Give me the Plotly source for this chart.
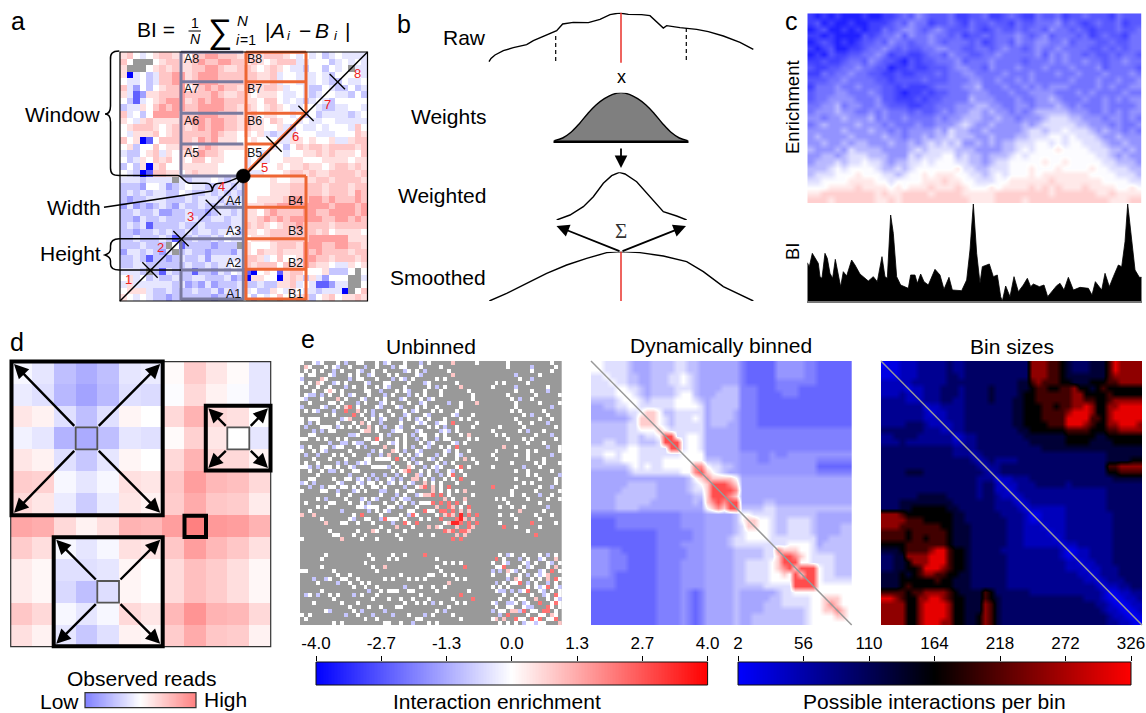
import plotly.graph_objects as go

FONT = "Liberation Sans"
LABEL = 21
BWR = [[0, "#0000ff"], [0.5, "#ffffff"], [1, "#ff0000"]]
BKR = [[0, "#0000ff"], [0.5, "#000000"], [1, "#ff0000"]]
ORANGE = "#ee6633"
SLATE = "#7a7a9e"
RED = "#e8302a"

# Panel a: enrichment cells above the anti-diagonal, top row first ('g' = no data)
a_rows = [
"67545677665778877767667776545453454444",
"75ggg567766787788776765677744555345453",
"6ggg5676766778876677656765443553545g",
"60453477886788877777766745544454355g5",
"5445347788678887777776674554445433",
"74253567785678787767667764554335454",
"6412667778777787667656665445434545",
"53145678886787887776657754543455545",
"34465787887788887767656765445534g",
"74535888877788877766756655453545",
"65467666677887887767665765544535",
"56777656776787887767665564343545",
"54666756777777876656564344554465",
"75601577777687866655655544355455",
"56355756677578766665555444435",
"43356746566687765555544455",
"53465767565775665554545454",
"35360675566666655554545",
"54301776656766655554",
"44434444g4344454345",
"33325542345443344344",
"34343443354334343",
"32334443334344434",
"24232343243343334",
"33433422334332g3",
"33243343334433",
"34341333343344",
"33233434334",
"33433343133",
"3334333g",
"24434324",
"3343133",
"334433",
"4443g3",
"56453",
"4643",
"564",
"65",
]
a_levels = {"0": -4.0, "1": -2.5, "2": -1.5, "3": -0.9, "4": -0.4, "5": 0.0, "6": 0.5,
            "7": 0.9, "8": 1.5, "9": 2.2, "g": None}

# Panel b: profiles (position relative to the window centre, height above each baseline)
raw_x = [-396, -390, -378, -353, -323, -283, -263, -233, -193, -175, -143, -98, -63, -33, -5, 22, 62, 87, 107, 127, 137, 177, 227, 262, 307, 357, 397]
raw_y = [3, 13, 23, 36, 45, 54, 66, 78, 96, 116, 121, 120, 130, 144, 149, 145, 144, 141, 123, 104, 111, 105, 100, 93, 80, 61, 40]
weight_x = [-200, -175, -150, -125, -100, -75, -50, -25, 0, 25, 50, 75, 100, 125, 150, 175, 200]
weight_y = [3, 11, 28, 54, 84, 110, 129, 142, 147, 142, 129, 110, 84, 54, 28, 11, 3]
weighted_x = [-193, -153, -113, -83, -53, -28, -5, 12, 47, 77, 107, 127, 167, 197]
weighted_y = [0, 15, 40, 70, 110, 133, 143, 138, 115, 80, 45, 25, 12, 0]
smooth_x = [-395, -343, -283, -223, -163, -103, -43, 0, 57, 127, 197, 247, 307, 362, 397]
smooth_y = [0, 23, 53, 83, 108, 128, 145, 148, 145, 135, 118, 88, 43, 18, 0]

# Panel c: boundary insulation profile and enrichment triangle map
bi_x = [0, 6, 15, 23, 33, 38, 44, 53, 60, 68, 76, 84, 93, 100, 108, 118, 133, 143, 158, 168, 183, 198, 210, 224, 233, 240, 250, 258, 268, 280, 303, 310, 323, 330, 340, 350, 363, 383, 398, 410, 425, 435, 463, 478, 488, 498, 508, 518, 525, 546, 558, 570, 580, 585, 595, 608, 620, 633, 648, 660, 670, 678, 696, 710, 721, 748, 758, 770, 783, 798, 818, 843, 854, 864, 883, 893, 906, 918, 933, 943, 953, 961, 973, 983, 996, 1003]
bi_y = [115, 103, 143, 128, 113, 73, 68, 143, 128, 83, 68, 125, 73, 43, 88, 75, 123, 108, 81, 73, 60, 73, 58, 133, 73, 68, 258, 203, 73, 48, 38, 78, 78, 53, 81, 58, 48, 95, 78, 35, 71, 33, 31, 63, 153, 291, 143, 53, 103, 111, 73, 78, 13, 0, 45, 13, 73, 28, 48, 68, 43, 51, 43, 48, 13, 46, 53, 33, 71, 33, 41, 38, 18, 58, 33, 83, 43, 73, 108, 103, 178, 291, 183, 93, 71, 71]
c_rows = [
"10101000100112324322231122311232113223122322213222",
"12010010011123243312232132232213223334232123223122",
"01200101011323443234322232123223233243323212223223",
"11010000212334243343323122323334323423332312322133",
"01210101223243323343233323123324334433423332232233",
"10120011233432322334433223323433234334333322323233",
"01021122334312211233243322334333334243433232232332",
"11211233243221021223334233343333233343433433233433",
"21122334332201121122234433243334333433343334233332",
"11323343322112112223233443333433343334334333433343",
"22233433332212222322233344334334343333343334334334",
"13334334333221211123333445333433434344433334343344",
"23334433343221011212233344433343344443334343333433",
"23344443334221112122333354443334334454333433434344",
"33445344334322211223334445544334434445434333433334",
"34445443343433323223434455454434345555544433434344",
"44344544453433433334344555445443444566655444344343",
"34544445444343334334445654454444545666665544434334",
"44444544454434344445465544544444566566766654544343",
"45444454444544344545565554454445566677676665445444",
"44544545544454454565656445454556667767677666544544",
"54445465555444456566665554444556767778777766655454",
"44554566655544465666775655455567677777777776654544",
"45556566766545566767776655456677777877877777665554",
"55567677776556567777778665566677787778777787766655",
"56667778777665677878887766567677787888888877776665",
"66777788887767777888988776667788888898888888777766",
"77788889888878788898889877787888898989888988887787",
"88999999998988999989999888889999999989999998898888",
"99989999998898999999999988889999899999999999988899",
]
c_levels = {"0": -3.5, "1": -3.0, "2": -2.6, "3": -2.2, "4": -1.7, "5": -1.1, "6": -0.5, "7": -0.05, "8": 0.35, "9": 0.75}

# Panel d: observed reads
d_matrix = [
[-.03, -.10, -.25, -.32, -.25, -.10, -.08, .02, .20, .10, .02, -.10],
[-.08, -.12, -.28, -.36, -.27, -.12, -.14, -.01, .15, .05, -.02, -.10],
[.10, .05, -.12, -.25, -.12, .04, .00, .15, .30, .15, .12, .00],
[-.05, -.10, -.30, -.33, -.25, -.10, -.12, .02, .18, .10, .00, -.10],
[.10, .05, -.12, -.22, -.10, .04, .00, .15, .30, .15, .15, .05],
[.20, .18, -.03, -.10, -.03, .12, .10, .22, .38, .28, .25, .15],
[.15, .10, -.08, -.20, -.08, .10, .05, .20, .33, .22, .20, .08],
[.35, .32, .15, .05, .13, .30, .28, .38, .50, .40, .38, .30],
[.20, .13, -.03, -.10, -.03, .12, .10, .22, .38, .28, .22, .12],
[.08, .03, -.12, -.12, -.10, .04, .00, .14, .25, .20, .13, .03],
[.08, .03, -.15, -.25, -.13, .04, .00, .14, .25, .20, .13, .03],
[.22, .15, -.03, -.10, -.03, .15, .10, .28, .42, .30, .28, .15],
[.12, .05, -.10, -.22, -.12, .05, .03, .20, .33, .22, .20, .05],
]

# Panel e: unbinned enrichment, upper triangle, each row starts on the diagonal ('.' = no data)
e1_rows = [
"w..wbw...w.b..ww...w.bw...w...b.w.....p.....w.......w..........w......w..w....",
"pw...w.wb..w...b..w...b.ww...w....w.........w......w.....b.....w.........w..",
".w.w..b.w...wb..w..w....bw.w.b.....w.......w.w..........w....w.......w....w",
"w...wb...w.w..bw...w.w....wb.......p........w......b.....w.......w.......",
".pw.....b.ww...w...b.wb.w.....w.w........w.........w..b.......w.....w...",
"w..bw.w....wb...ww....w...bw......w.........w.w.....w.........b.........",
".w...b.w..w..w.wb...w.....w.b.w...p.......w.....b.......w.....w.....w",
"pw.w.....ww..b...w.wb...w...w......w...........w...w...b.........w.w.",
"..w.bw...w...b.w...b.w.w...w.......w..w.....w......w.....w.......b...",
"p.w...wb..w.w...bw...w.bw.........w.........w.b..w.......w...w...",
"w...b.w...bw.w...w..bw.....b..w...p.........w.....w....w.........",
"pr.w....wb...wb...w.w..w.....w.....p.......w........b.....w..w.",
"..p.w.b...w...w.bw...w.w...w......w......w.w.....w..........w",
"r.w..b.w..w..bw...wb.....wb...w............w.b...w....w...w",
"..w.w.bw...b.w.bw.w...w...w.w...........w.....w..w.......",
"p.w..b....w...wbw..bww.r.....w..........w..w...b...w...w",
".p.w.b..wb..w...w.w.b..w...w......w.....w.......w.......",
"p.w...bww...bw....bwb.w.....w..w......w.b...w.....w..w",
"..w.b...w.b.ww..w.w...w.p......w.w.......w...b....w.",
"rw...w.w..b.w..b.ww....w.w.......w...w.w.....w..w..",
"..wbw.w...w.bw....wb.w.....w.........w...w.....w",
"p..w.w.b..wb..w.w.r.....w.....p..w.......b..w..w",
".pw.b..wb.....wb.w..w..w...w.......w.w.....w....",
"..w.w.bw...b.w..wb.....w.w.....w..w.....b...w.w",
"r.w.b...wb.w...w.p.w.....w.......w...w.....w.",
"..w.bw...w.b.w.....w..w.....w.....w.w...w..",
".pw..b.wbw...wr.w.....w.......b...w.....w..",
"r..w.w.b..wb.w.....w.......w..w.....w.....",
".pb.w..b.wr..w.....p.........w.w.....b..",
"p.w.b..w.w.r.....w.......w.....w...w..",
".p.w.w...w...w..w.........w.w.....w...",
"r.p.w.r.......w..r.....w.....w..b...w",
".p.w.w.w.p.....w.....w.....w.....w.",
"r.r.w.....w.w.......w..w...b..w...",
"..p.w..p.......w.w.....w....w..w.",
"r.r.r.w....r.....w.......w.....w",
".rp.w.r.......w..w..w.....b...w",
".r.p.p..r.w.......p.....w.....",
"p.R.r.r.....w..w.....w...w..w",
"rRp.p..r.......w.....w.....w",
"r.r.r.....w.......r.....w..",
".rp.......r..w.....w......",
"p..............w.........",
"................r......",
".......................",
"......................",
"..w...w.p.w.....b.w.",
"wb..w.b..b.w..p...w",
"..w.bw..w...w.b.w.",
"r.w...b.w..bw..p.",
".wb...wb.w..wb.w",
"r...w.bw...w.p.",
"pwb.w...bw.r.w",
"..w.b.wbwp...",
"pw..w.w.p.rw",
"r.b.w..b.w.",
".w.wbwr.wb",
"r..wb.w.w",
"w..bw.rw",
"p..w.wb",
"r..wrw",
".rw.w",
"r.w.",
"pw.",
"r.",
"p",
]
e1_levels = {".": None, "w": 0.0, "b": -0.9, "p": 0.9, "r": 2.2, "R": 3.4}
e1_empty_bins = [45, 46, 47]

# Panel e: dynamically binned enrichment, upper triangle (groups follow the bin blocks)
e2_rows = [
"6655 5543 3344 4455443 333333 100000 2222211 000000",
"655 5543 3344 4455443 333333 100000 2222211 000000",
"65 5544 3344 4556543 333333 100000 2222211 000000",
"6 5544 3344 4556543 333333 100000 1111111 000000",
"6655 4344 4455543 333444 111000 1111000 000000",
"665 4344 4456643 334444 111000 0111000 000000",
"66 5455 5566654 344444 111000 0000000 000000",
"6 5555 5566665 344444 111000 0000000 000000",
"6776 4455555 344443 111000 0000000 000000",
"776 5455565 344443 111000 0000000 000000",
"76 5455555 344433 111000 0000000 000000",
"7 6555555 333333 111111 1111111 111111",
"9955665 333333 111111 1111111 111111",
"995665 333333 111111 1111111 111111",
"95665 333333 111111 1111111 111111",
"6666 333333 222112 1122222 222222",
"666 444333 222112 2222222 111111",
"88 655443 222222 2222222 000000",
"9 765433 222222 2222222 111111",
"877776 333333 3333333 333333",
"99987 333333 3333333 333333",
"9998 333333 3333333 333333",
"987 333333 3333333 333333",
"99 333344 3333333 333333",
"9 444455 4444444 444444",
"665555 4444444 333333",
"77665 4455554 333333",
"7665 4455554 333344",
"665 4455554 333344",
"65 5555555 334444",
"5 5566665 344444",
"8777665 444444",
"998765 555444",
"99665 555444",
"7999 655444",
"799 655444",
"99 655555",
"9 666666",
"666666",
"77766",
"8766",
"876",
"76",
"6",
]
e2_levels = {"0": -2.4, "1": -2.0, "2": -1.65, "3": -1.4, "4": -1.0, "5": -0.5, "6": 0.0, "7": 0.8, "8": 1.8, "9": 2.8}

# Panel e: bin sizes, upper triangle (groups follow the bin blocks)
e3_rows = [
"0112 2233 3334 3344444 444444 888776 5444555 798888",
"112 2233 3334 3344444 444444 888776 5444555 798888",
"12 2233 3334 4344444 444444 888776 5555555 788888",
"2 2333 3334 4444444 444455 787776 6555666 778888",
"1223 3344 4344445 444455 677667 7866567 666666",
"223 3344 4344445 444456 677777 7886666 766666",
"23 3344 3344445 444556 677777 7887766 788888",
"1 2233 3344444 444556 667767 7889866 889999",
"1223 3344444 444556 667777 8999866 899999",
"223 3344444 444556 667777 9999776 899999",
"22 3344444 444556 666777 9998766 889998",
"2 3344444 444455 666666 7777666 778888",
"1233444 444445 555555 6666655 666666",
"233444 444444 555555 6666555 566666",
"33444 444444 445555 5555555 555555",
"2344 444444 444444 4444444 555555",
"234 333344 444444 4444444 555566",
"23 344444 444444 4444444 778888",
"2 344444 444444 4444444 667777",
"122333 444444 4444444 455555",
"12233 344444 3444444 444444",
"1233 333333 3333333 444444",
"123 333333 3333333 444444",
"12 333333 3333333 444444",
"1 222222 3333333 444444",
"012222 3333333 344444",
"12222 3333333 344444",
"1222 3333333 344444",
"122 3333333 344444",
"12 3333333 344444",
"1 2233333 344444",
"0122333 344444",
"122333 344444",
"12233 344444",
"1223 334444",
"123 334444",
"12 333444",
"1 223344",
"012233",
"01223",
"0122",
"012",
"01",
"0",
]
e3_levels = {"0": 2, "1": 20, "2": 45, "3": 72, "4": 100, "5": 130, "6": 164, "7": 205, "8": 255, "9": 310}

# Colour bars
enrich_ticks = [-4.0, -2.7, -1.3, 0.0, 1.3, 2.7, 4.0]
enrich_pos = [-4, -8 / 3, -4 / 3, 0, 4 / 3, 8 / 3, 4]
size_ticks = [2, 56, 110, 164, 218, 272, 326]


W, H = 1146, 713
fig = go.Figure()
layout_axes = {}
axis_count = [0]


def new_axes(x0, y0, x1, y1, xr, yr, xopts=None):
    axis_count[0] += 1
    n = axis_count[0]
    s = "" if n == 1 else str(n)
    xa = dict(domain=[x0 / W, x1 / W], range=xr, visible=False, anchor="y" + s, fixedrange=True, automargin=False)
    ya = dict(domain=[1 - y1 / H, 1 - y0 / H], range=yr, visible=False, anchor="x" + s, fixedrange=True, automargin=False)
    if xopts:
        xa.update(xopts)
    layout_axes["xaxis" + s] = xa
    layout_axes["yaxis" + s] = ya
    return "x" + s, "y" + s


def sym_upper(rows, levels, pad, empty=()):
    n = len(rows)
    z = [[None] * n for _ in range(n)]
    for r, row in enumerate(rows):
        row = row.replace(" ", "")[: n - r].ljust(n - r, pad)
        for k, ch in enumerate(row):
            if r in empty or r + k in empty:
                continue
            z[r][r + k] = z[r + k][r] = levels[ch]
    return z


def sym_anti(rows, levels, pad):
    n = len(rows)
    z = [[None] * n for _ in range(n)]
    for r, row in enumerate(rows):
        row = row[: n - r].ljust(n - r, pad)
        for c, ch in enumerate(row):
            z[r][c] = z[n - 1 - c][n - 1 - r] = levels[ch]
    return z


def heat(z, box, scale, zmin, zmax, smooth=False):
    nr, nc = len(z), len(z[0])
    xa, ya = new_axes(*box, [-0.5, nc - 0.5], [nr - 0.5, -0.5])
    fig.add_trace(go.Heatmap(z=z, xaxis=xa, yaxis=ya, colorscale=scale, zmin=zmin, zmax=zmax,
                             showscale=False, hoverongaps=False, hoverinfo="skip",
                             zsmooth="best" if smooth else False))


def paper_rect(x0, y0, x1, y1, color):
    shapes.append(dict(type="rect", xref="paper", yref="paper", x0=x0 / W, x1=x1 / W, y0=1 - y0 / H, y1=1 - y1 / H,
                       fillcolor=color, line_width=0, layer="below"))


shapes = []
notes = []
paper_rect(120, 52, 367.5, 301, "#999999")
paper_rect(300, 361, 561.7, 625, "#999999")

# ---- heat maps
heat(sym_anti(a_rows, a_levels, "5"), (120, 52, 367.5, 301), BWR, -4, 4)
heat(d_matrix, (10.7, 361.7, 270.7, 646.7), BWR, -1, 1)
heat(sym_upper(e1_rows, e1_levels, ".", e1_empty_bins), (300, 361, 561.7, 625), BWR, -4, 4)
heat(sym_upper(e2_rows, e2_levels, "1"), (591, 361, 851.7, 625), BWR, -4, 4, True)
heat(sym_upper(e3_rows, e3_levels, "3"), (881, 361, 1142, 625), BKR, 2, 326, True)
c_z = [[c_levels[ch] for ch in row[:50].ljust(50, row[-1])] for row in c_rows]
heat(c_z, (807.3, 13.3, 1141.7, 203), BWR, -4, 4, True)

# ---- panel b curves (1 unit = a third of a pixel)
def curve(x, y, top, bottom, **kw):
    xa, ya = new_axes(487.67, top, 754.33, bottom, [-400, 400], [0, (bottom - top) * 3])
    fig.add_trace(go.Scatter(x=x, y=y, xaxis=xa, yaxis=ya, mode="lines", hoverinfo="skip", **kw))


LINE = dict(color="#000000", width=1.4)
curve(raw_x, raw_y, 12.67, 62.67, line=LINE)
curve(weight_x, weight_y, 92.67, 141.67, line=dict(color="#000000", width=1.4, shape="spline"), fill="tozeroy", fillcolor="#7f7f7f")
curve(weighted_x, weighted_y, 172.33, 220, line=LINE)
curve(smooth_x, smooth_y, 251.67, 301, line=LINE)

# ---- panel c BI profile
xa, ya = new_axes(807.3, 203, 1141.7, 301, [0, 1003], [0, 294],
                  dict(visible=True, showline=True, linecolor="#777777", linewidth=1.5, showticklabels=False,
                       ticks="", showgrid=False, zeroline=False))
fig.add_trace(go.Scatter(x=bi_x, y=bi_y, xaxis=xa, yaxis=ya, mode="lines", fill="tozeroy", fillcolor="#000000",
                         line=dict(color="#000000", width=0.8), hoverinfo="skip"))

# ---- colour bars
grad = [-4 + 8 * i / 255 for i in range(256)]
bar_ticks = dict(visible=True, side="top", ticks="outside", ticklen=5, tickcolor="#000000", tickwidth=1,
                 showgrid=False, zeroline=False, showline=False, tickfont=dict(family=FONT, size=17, color="#000000"))
xa, ya = new_axes(316, 662, 707.6, 685, [-4, 4], [0, 1],
                  dict(bar_ticks, tickvals=enrich_pos, ticktext=["%.1f" % t for t in enrich_ticks]))
fig.add_trace(go.Heatmap(z=[grad], x=grad, y=[0.5], xaxis=xa, yaxis=ya, colorscale=BWR, zmin=-4, zmax=4,
                         showscale=False, hoverinfo="skip"))
sz = [2 + 324 * i / 255 for i in range(256)]
xa, ya = new_axes(738, 662, 1131, 685, [2, 326], [0, 1],
                  dict(bar_ticks, tickvals=size_ticks, ticktext=[str(t) for t in size_ticks]))
fig.add_trace(go.Heatmap(z=[sz], x=sz, y=[0.5], xaxis=xa, yaxis=ya, colorscale=BKR, zmin=2, zmax=326,
                         showscale=False, hoverinfo="skip"))
xa, ya = new_axes(85, 692.7, 196, 707.7, [-1, 1], [0, 1])
g2 = [-1 + 2 * i / 127 for i in range(128)]
fig.add_trace(go.Heatmap(z=[g2], x=g2, y=[0.5], xaxis=xa, yaxis=ya, colorscale=BWR, zmin=-2, zmax=2,
                         showscale=False, hoverinfo="skip"))

# ---- overlay: pixel coordinate axes for the schematic annotations
OX, OY = new_axes(0, 0, W, H, [0, W], [H, 0])
fig.add_trace(go.Scatter(x=[0], y=[0], xaxis=OX, yaxis=OY, mode="markers", marker=dict(opacity=0), hoverinfo="skip"))


def line(x0, y0, x1, y1, color="#000000", width=1.5, dash=None):
    shapes.append(dict(type="line", xref=OX, yref=OY, x0=x0, y0=y0, x1=x1, y1=y1,
                       line=dict(color=color, width=width, dash=dash or "solid")))


def rect(x0, y0, x1, y1, color="#000000", width=4, fill=None):
    shapes.append(dict(type="rect", xref=OX, yref=OY, x0=x0, y0=y0, x1=x1, y1=y1,
                       line=dict(color=color, width=width), fillcolor=fill or "rgba(0,0,0,0)"))


def path(d, width=1.5, color="#000000"):
    shapes.append(dict(type="path", xref=OX, yref=OY, path=d, line=dict(color=color, width=width)))


def text(x, y, s, size=LABEL, color="#000000", anchor="center", angle=0, family=FONT, style="normal"):
    notes.append(dict(x=x, y=y, xref=OX, yref=OY, text=s, showarrow=False, xanchor=anchor, yanchor="middle",
                      textangle=angle, font=dict(family=family, size=size, color=color, style=style)))


def arrow(x0, y0, x1, y1, width=2.4, size=1.2):
    notes.append(dict(x=x1, y=y1, ax=x0, ay=y0, xref=OX, yref=OY, axref=OX, ayref=OY, text="", showarrow=True,
                      arrowhead=2, arrowsize=size, arrowwidth=width, arrowcolor="#000000"))


# panel a schematic, in 3x units
def z3(v):
    return v / 3


for zy in (157, 245, 340, 432, 528):
    line(z3(543), z3(zy), z3(730), z3(zy), SLATE, 3)
for zy, start in ((622, 640), (716, 543), (810, 543)):
    line(z3(start), z3(zy), z3(730), z3(zy), SLATE, 3)
line(z3(543), z3(155), z3(543), z3(528), SLATE, 3)
line(z3(543), z3(716), z3(543), z3(900), SLATE, 3)
line(z3(730), z3(528), z3(730), z3(900), SLATE, 3)
line(z3(543), z3(897), z3(730), z3(897), SLATE, 3)
line(z3(738), z3(155), z3(738), z3(528), ORANGE, 3)
line(z3(738), z3(530), z3(738), z3(900), ORANGE, 3)
line(z3(918), z3(155), z3(918), z3(340), ORANGE, 3)
line(z3(918), z3(528), z3(918), z3(900), ORANGE, 3)
for zy in (157, 245, 340):
    line(z3(738), z3(zy), z3(918), z3(zy), ORANGE, 3)
line(z3(738), z3(432), z3(822), z3(432), ORANGE, 3)
for zy in (528, 622, 716, 808, 897):
    line(z3(738), z3(zy), z3(918), z3(zy), ORANGE, 3)
line(z3(730), z3(528), z3(918), z3(340), ORANGE, 3.5)
line(120, 301, 367.5, 52, "#000000", 1.5)
rect(120, 52, 367.5, 301, "#000000", 1.2)
for zx, zy in [(450, 810), (543, 716), (640, 622), (822, 432), (918, 340), (1012, 245)]:
    line(z3(zx - 23), z3(zy - 23), z3(zx + 23), z3(zy + 23), "#000000", 1.3)
shapes.append(dict(type="circle", xref=OX, yref=OY, x0=236.3, x1=250.3, y0=169, y1=183, fillcolor="#000000",
                   line=dict(color="#000000", width=0.5)))
path("M119.3,51 C112,51 110,54 110.5,60 L110.5,106 C110.5,112 108,114 105,114 C108,114 110.5,116 110.5,122 "
     "L110.5,168 C110.5,174 113,175.5 119.3,175.5 L178,175.5 C182,175.5 184,183.3 190,183.3 L206,183.3 "
     "C210,183.3 212,185 212.3,191 C213,185 215,183.3 220,183.3 C228,183.3 235,178 243,176")
path("M212.3,191 L104,207.3")
path("M180,238.7 L119.3,238.7 C113,238.7 110.5,241 110.5,246 L110.5,249 C110.5,253 108,254 105,255 "
     "C108,256 110.5,257 110.5,261 L110.5,264 C110.5,268 113,270 119.3,270 L181,270")
for s, zx, zy in [("1", 385, 838), ("2", 480, 742), ("3", 572, 650), ("4", 665, 560),
                  ("5", 793, 503), ("6", 887, 408), ("7", 982, 312), ("8", 1073, 220)]:
    text(z3(zx), z3(zy), s, 13, "#ee2222")
for s, zx, zy in [("A8", 575, 176), ("A7", 575, 268), ("A6", 575, 362), ("A5", 575, 458),
                  ("A4", 700, 602), ("A3", 700, 693), ("A2", 700, 790), ("A1", 700, 882),
                  ("B8", 762, 176), ("B7", 762, 268), ("B6", 762, 362), ("B5", 762, 458),
                  ("B4", 886, 602), ("B3", 886, 693), ("B2", 886, 790), ("B1", 886, 882)]:
    text(z3(zx), z3(zy), s, 12.5, "#111111")
text(102.7, 114, "Window", anchor="right")
text(103, 207, "Width", anchor="right")
text(103, 253, "Height", anchor="right")
text(156, 29, "BI =")
text(195, 22.5, "1", 14)
line(188.5, 31, 201, 31, "#000000", 1)
text(195, 39, "N", 14, style="italic")
text(220, 31, "∑", 34)
text(242, 20, "N", 15, style="italic")
text(237.5, 40, "i", 14, style="italic")
text(248, 40, "=1", 14)
text(267, 30, "|")
text(277, 30, "A", style="italic")
text(288.5, 35, "i", 13, style="italic")
text(305, 30, "−")
text(322, 30, "B", style="italic")
text(335.5, 35, "i", 13, style="italic")
text(347, 30, "|")

# panel b schematic
line(621, 12.67, 621, 62.67, RED, 1.5)
line(621, 251.67, 621, 301, RED, 1.5)
line(555.7, 36, 555.7, 62.67, "#000000", 1.2, "4px,3px")
line(686.3, 28, 686.3, 62.67, "#000000", 1.2, "4px,3px")
line(553.5, 141.67, 688.5, 141.67, "#000000", 2.5)
arrow(621, 147, 621, 168, 1.8, 1.4)
arrow(621, 251.67, 556.5, 226, 1.8, 1.4)
arrow(621, 251.67, 686, 226, 1.8, 1.4)
text(621, 231, "Σ", 21, "#333333", family="Liberation Serif")
text(621, 77, "x", 18)
for s, y in [("Raw", 37), ("Weights", 116), ("Weighted", 195), ("Smoothed", 277)]:
    text(487.5, y, s, anchor="right")

# panel c labels
text(792, 107, "Enrichment", 18.5, angle=-90)
text(792, 252, "BI", 18.5, angle=-90)

# panel d schematic
rect(10.7, 361.7, 270.7, 646.7, "#333333", 1.2)
for box, inner in [((11.5, 361.5, 162.7, 515.3), (75.7, 427.3, 97.3, 449.3)),
                   ((205.8, 405.8, 270.5, 470.5), (227.3, 427.3, 249.3, 449.3)),
                   ((53.7, 537.3, 162.7, 646.2), (97.3, 581, 119, 602.7))]:
    rect(*box, "#000000", 4)
    rect(*inner, "#555555", 1.8)
    for (px, qx) in [(box[0], inner[0]), (box[2], inner[2])]:
        for (py, qy) in [(box[1], inner[1]), (box[3], inner[3])]:
            arrow(qx, qy, px + (2.5 if px == box[0] else -2.5), py + (2.5 if py == box[1] else -2.5))
rect(184.5, 515.8, 206, 537, "#000000", 4)
text(141, 678, "Observed reads")
text(59, 701, "Low")
text(225, 699, "High")
rect(85, 692.7, 196, 707.7, "#333333", 1.2)

# panel e labels
text(431, 346, "Unbinned")
text(721, 345, "Dynamically binned")
text(1012, 346, "Bin sizes")
line(591, 361, 851.7, 625, "#999999", 1.5)
line(881, 361, 1142, 625, "#999999", 1.5)
rect(316, 662, 707.6, 685, "#111111", 1)
rect(738, 662, 1131, 685, "#111111", 1)
text(497, 701, "Interaction enrichment")
text(934, 701, "Possible interactions per bin")

# panel letters
for s, x, y in [("a", 17.7, 21), ("b", 404, 24), ("c", 791, 21), ("d", 17, 342), ("e", 308, 339)]:
    text(x, y, s, 25)

fig.update_layout(width=W, height=H, margin=dict(l=0, r=0, t=0, b=0, autoexpand=False), showlegend=False,
                  paper_bgcolor="#ffffff", plot_bgcolor="rgba(0,0,0,0)",
                  font=dict(family=FONT), shapes=shapes, annotations=notes, **layout_axes)
fig.write_html("out.html", config=dict(displayModeBar=False),
               post_script="document.body.style.margin='0';document.body.style.overflow='hidden';")
